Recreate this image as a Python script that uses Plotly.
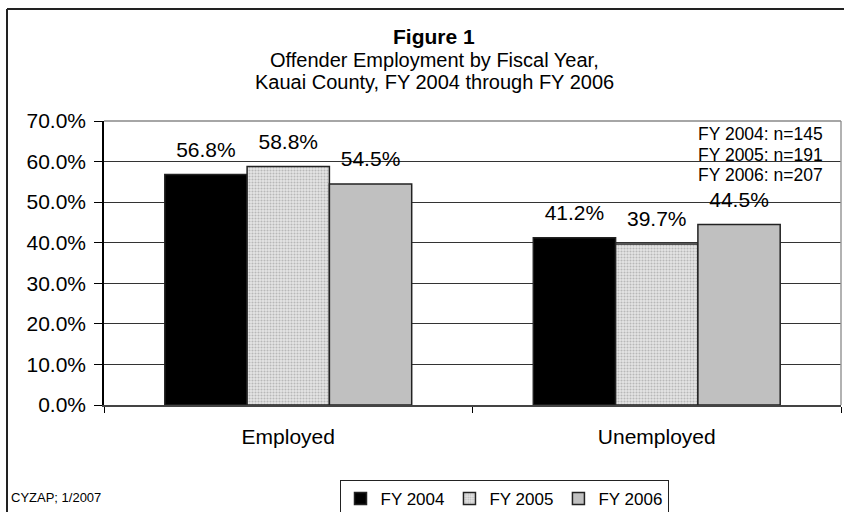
import plotly.graph_objects as go

categories = ["Employed", "Unemployed"]
series_names = ["FY 2004", "FY 2005", "FY 2006"]
fy2004 = [56.8, 41.2]
fy2005 = [58.8, 39.7]
fy2006 = [54.5, 44.5]
y_ticks = [0, 10, 20, 30, 40, 50, 60, 70]
y_tick_labels = ["0.0%", "10.0%", "20.0%", "30.0%", "40.0%", "50.0%", "60.0%", "70.0%"]
n_notes = ["FY 2004: n=145", "FY 2005: n=191", "FY 2006: n=207"]

FONT = "Liberation Sans, Arial, sans-serif"

L, R, T, B = 104, 3, 121, 107
W, H = 844, 512
pw = W - L - R
ph = H - T - B

def px_x(x):
    return (x - L) / pw

def px_y(y):
    return (H - B - y) / ph

fig = go.Figure()
styles = [
    dict(color="black", line=dict(color="#222", width=1.5)),
    dict(color="white", line=dict(color="#222", width=1.5),
         pattern=dict(shape=".", fgcolor="#8a8a8a", bgcolor="#e6e6e6", size=3, solidity=0.4)),
    dict(color="#c0c0c0", line=dict(color="#222", width=1.5)),
]
for name, vals, st in zip(series_names, [fy2004, fy2005, fy2006], styles):
    fig.add_trace(go.Bar(x=categories, y=vals, name=name, marker=st))

# value labels (grouped scatter text aligned with bars)
for name, vals in zip(series_names, [fy2004, fy2005, fy2006]):
    fig.add_trace(go.Scatter(
        x=categories, y=vals, mode="markers+text", showlegend=False,
        marker=dict(size=18, opacity=0), hoverinfo="skip",
        text=[f"{v:.1f}%" for v in vals], textposition="top center",
        textfont=dict(family=FONT, size=21, color="black"), cliponaxis=False,
    ))

fig.update_layout(
    width=W, height=H,
    margin=dict(l=L, r=R, t=T, b=B, autoexpand=False),
    paper_bgcolor="white", plot_bgcolor="white",
    barmode="group", bargap=0.33, bargroupgap=0,
    scattermode="group", scattergap=0.33,
    font=dict(family=FONT, size=20, color="black"),
    showlegend=True,
    legend=dict(orientation="h", x=px_x(504), xanchor="center", y=px_y(480), yanchor="top",
                bordercolor="#222", borderwidth=1, font=dict(size=17, family=FONT),
                tracegroupgap=0),
)
fig.update_yaxes(range=[0, 70], tickvals=y_ticks, ticktext=y_tick_labels,
                 showgrid=True, gridcolor="#333", gridwidth=1,
                 showline=True, linecolor="black", linewidth=1.5, mirror=False,
                 ticks="outside", ticklen=8, tickcolor="black", ticklabelstandoff=4,
                 tickfont=dict(size=21, family=FONT), zeroline=False)
fig.update_xaxes(showline=True, linecolor="#444", linewidth=2,
                 ticks="outside", tickson="boundaries", ticklen=6, tickcolor="black",
                 ticklabelstandoff=12,
                 tickfont=dict(size=21, family=FONT))

# plot area right/top border
fig.add_shape(type="line", xref="paper", yref="paper", x0=1, x1=1, y0=0, y1=1,
              line=dict(color="#999", width=1.5))
fig.add_shape(type="line", xref="paper", yref="paper", x0=0, x1=1, y0=1, y1=1,
              line=dict(color="#888", width=1.5))
# outer chart border
fig.add_shape(type="line", xref="paper", yref="paper", x0=px_x(7), x1=px_x(W + 20),
              y0=px_y(9), y1=px_y(9), line=dict(color="#222", width=2))
fig.add_shape(type="line", xref="paper", yref="paper", x0=px_x(7), x1=px_x(7),
              y0=px_y(9), y1=px_y(H + 20), line=dict(color="#222", width=2))

# titles
cx = px_x(434)
fig.add_annotation(text="<b>Figure 1</b>", xref="paper", yref="paper", x=cx, y=px_y(37),
                   xanchor="center", yanchor="middle",
                   showarrow=False, font=dict(size=21, family=FONT))
fig.add_annotation(text="Offender Employment by Fiscal Year,", xref="paper", yref="paper",
                   x=cx, y=px_y(60), xanchor="center", yanchor="middle",
                   showarrow=False, font=dict(size=20, family=FONT))
fig.add_annotation(text="Kauai County, FY 2004 through FY 2006", xref="paper", yref="paper",
                   x=cx, y=px_y(82), xanchor="center", yanchor="middle",
                   showarrow=False, font=dict(size=20, family=FONT))

for i, t in enumerate(n_notes):
    fig.add_annotation(text=t, xref="paper", yref="paper", x=px_x(696), xanchor="left",
                       y=px_y(134 + 20.5 * i), yanchor="middle", showarrow=False,
                       font=dict(size=17.5, family=FONT))

fig.add_annotation(text="CYZAP; 1/2007", xref="paper", yref="paper", x=px_x(9), xanchor="left",
                   y=px_y(497), yanchor="middle", showarrow=False, font=dict(size=13, family=FONT))

fig.write_html("out.html", post_script="document.body.style.margin='0';",
               config={"displayModeBar": False})
